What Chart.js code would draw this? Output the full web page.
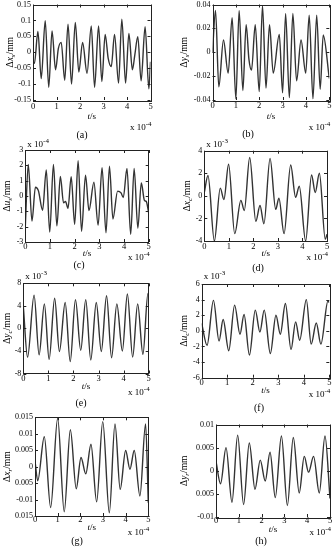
<!DOCTYPE html>
<html lang="en">
<head>
<meta charset="utf-8">
<title>Vibration displacement</title>
<script src="https://cdn.jsdelivr.net/npm/chart.js@4.4.0/dist/chart.umd.min.js"></script>
<style>
  body { margin: 0; background: #fff; }
  #wrap { position: relative; width: 334px; height: 550px; }
  #wrap canvas { position: absolute; left: 0; top: 0; }
</style>
</head>
<body>
<div id="wrap"></div>

<script>
// time axis, x 10^-4 s
var tTicks = [0, 1, 2, 3, 4, 5];

// (a) dx_s, mm
var aT = [0, 0.06, 0.21, 0.35, 0.52, 0.67, 0.81, 0.96, 1.08, 1.2, 1.35, 1.49, 1.64, 1.8, 1.95, 2.11, 2.3, 2.48, 2.62, 2.79, 2.93, 3.07, 3.2, 3.33, 3.47, 3.64, 3.78, 3.94, 4.08, 4.23, 4.33, 4.46, 4.6, 4.77, 4.93, 5];
var aY = [-0.03, -0.035, 0.065, -0.083, 0.099, -0.11, 0.067, -0.055, 0.012, 0.031, -0.088, 0.088, -0.1, 0.094, -0.062, 0.031, -0.066, 0.083, -0.11, 0.083, -0.092, 0.056, -0.019, -0.045, 0.056, -0.097, 0.104, -0.097, 0.059, -0.055, -0.01, 0.049, -0.09, 0.08, -0.115, -0.03];
var aTicks = [-0.15, -0.1, -0.05, 0, 0.05, 0.1, 0.15];

// (b) dy_s, mm
var bT = [0, 0.13, 0.27, 0.47, 0.67, 0.84, 1.0, 1.14, 1.3, 1.44, 1.56, 1.67, 1.83, 2.0, 2.14, 2.29, 2.44, 2.6, 2.86, 3.0, 3.13, 3.29, 3.44, 3.6, 3.79, 3.99, 4.14, 4.3, 4.46, 4.61, 4.74, 5];
var bY = [0, 0.035, -0.029, 0.0103, -0.0175, 0.029, -0.039, 0.035, -0.032, 0.023, -0.006, -0.015, 0.023, -0.033, 0.039, -0.03, 0.023, -0.0175, 0.015, -0.034, 0.0325, -0.038, 0.0325, -0.024, 0.0103, -0.0175, 0.031, -0.039, 0.031, -0.031, 0.0145, -0.022];
var bTicks = [-0.04, -0.02, 0, 0.02, 0.04];

// (c) du_s, x 10^-4 mm
var cT = [0, 0.12, 0.27, 0.41, 0.53, 0.7, 0.85, 0.99, 1.14, 1.28, 1.42, 1.55, 1.63, 1.73, 1.86, 2.0, 2.14, 2.28, 2.44, 2.58, 2.78, 2.95, 3.11, 3.27, 3.41, 3.55, 3.74, 3.88, 3.97, 4.12, 4.27, 4.41, 4.56, 4.7, 4.83, 4.9, 5];
var cY = [-2.0, 2.06, -1.64, 0.57, 0.35, -0.93, 1.7, -2.35, 2.06, -1.95, 1.28, -0.45, -0.35, -0.8, 1.26, -1.85, 2.3, -2.3, 1.35, -0.95, 0.9, -1.9, 1.85, -2.4, 1.95, -1.5, 0.32, 0.2, -0.1, 1.8, -2.5, 1.8, -2.1, 0.85, -0.3, -0.35, -1.1];
var cTicks = [-3, -2, -1, 0, 1, 2, 3];

// (d) dx_c, x 10^-3 mm
var dT = [0, 0.15, 0.41, 0.65, 0.8, 0.99, 1.24, 1.49, 1.63, 1.85, 2.1, 2.27, 2.43, 2.68, 2.91, 3.04, 3.25, 3.52, 3.72, 3.87, 4.13, 4.37, 4.52, 4.69, 4.93, 5];
var dY = [0.3, 1.8, -4.0, 0.68, -0.32, 2.8, -3.35, -0.4, -1.3, 3.4, -2.26, -0.85, -2.47, 3.32, -1.2, -0.2, -3.35, 2.73, -0.12, 0.85, -4.0, 1.85, 0.3, 2.0, -3.85, -3.4];
var dTicks = [-4, -2, 0, 2, 4];

// (e) dy_c, x 10^-3 mm
var eT = [0, 0.17, 0.43, 0.63, 0.84, 1.03, 1.25, 1.44, 1.67, 1.87, 2.08, 2.29, 2.49, 2.69, 2.91, 3.11, 3.32, 3.52, 3.73, 3.95, 4.15, 4.36, 4.56, 4.77, 4.97, 5];
var eY = [3.9, -5.1, 5.9, -4.7, 4.35, -5.5, 5.35, -4.1, 4.6, -5.9, 5.1, -3.9, 5.1, -5.6, 4.6, -4.1, 5.8, -5.2, 4.35, -4.0, 6.1, -5.1, 4.35, -4.6, 6.2, 6.0];
var eTicks = [-8, -4, 0, 4, 8];

// (f) du_c, x 10^-3 mm
var fT = [0, 0.21, 0.46, 0.68, 0.84, 1.06, 1.29, 1.5, 1.66, 1.87, 2.1, 2.28, 2.45, 2.69, 2.91, 3.08, 3.28, 3.5, 3.68, 3.84, 4.1, 4.29, 4.49, 4.67, 4.95, 5];
var fY = [0.95, -1.85, 3.9, -1.3, 1.45, -2.55, 3.3, -0.43, 2.1, -3.1, 2.65, -0.15, 2.65, -2.9, 2.0, -0.43, 3.5, -2.4, 1.15, -1.2, 4.0, -1.7, 1.0, -1.7, 3.85, 3.6];
var fTicks = [-6, -4, -2, 0, 2, 4, 6];

// (g) dx_r, mm
var gT = [0, 0.12, 0.41, 0.69, 1.0, 1.29, 1.56, 1.82, 2.03, 2.24, 2.47, 2.72, 2.99, 3.28, 3.53, 3.76, 4.0, 4.19, 4.38, 4.63, 4.88, 5];
var gY = [0.0018, -0.0043, 0.0091, -0.0124, 0.0147, -0.0137, 0.0112, -0.0067, 0.0028, -0.0022, 0.0068, -0.0107, 0.0137, -0.014, 0.013, -0.0069, 0.0049, -0.0008, 0.0049, -0.0089, 0.013, -0.011];
var gTicks = [-0.015, -0.01, -0.005, 0, 0.005, 0.01, 0.015];

// (h) dy_r, mm
var hT = [0, 0.2, 0.44, 0.7, 0.95, 1.21, 1.46, 1.71, 1.94, 2.16, 2.37, 2.6, 2.87, 3.13, 3.39, 3.65, 3.87, 4.06, 4.28, 4.53, 4.78, 5];
var hY = [0.002, -0.0028, 0.005, -0.0068, 0.0077, -0.0073, 0.006, -0.004, 0.0023, -0.0022, 0.004, -0.0058, 0.0075, -0.0075, 0.0072, -0.0048, 0.0031, -0.0003, 0.0031, -0.0048, 0.0075, -0.006];
var hTicks = [-0.01, -0.005, 0, 0.005, 0.01];

var SERIF = "'Liberation Serif', 'Times New Roman', serif";

// write a run of text pieces [text, font, dy] one after another
function rich(ctx, parts, x, y, align) {
    var w = 0;
    parts.forEach(function(p){ ctx.font = p[1]; w += ctx.measureText(p[0]).width; });
    var cx = align == 'right' ? x - w : (align == 'center' ? x - w / 2 : x);
    parts.forEach(function(p){
        ctx.font = p[1];
        ctx.fillText(p[0], cx, y + (p[2] || 0));
        cx += ctx.measureText(p[0]).width;
    });
}

var decor = {
    id: 'decor',
    afterDraw: function(chart, args, o) {
        var ctx = chart.ctx, a = chart.chartArea;
        var xs = chart.scales.x, ys = chart.scales.y;
        ctx.save();
        ctx.strokeStyle = '#222';
        ctx.lineWidth = 1;
        ctx.beginPath();
        xs.ticks.forEach(function(t){
            var p = Math.round(xs.getPixelForValue(t.value)) + 0.5;
            ctx.moveTo(p, a.bottom); ctx.lineTo(p, a.bottom - 3);
            ctx.moveTo(p, a.top); ctx.lineTo(p, a.top + 3);
        });
        ys.ticks.forEach(function(t){
            var p = Math.round(ys.getPixelForValue(t.value)) + 0.5;
            ctx.moveTo(a.left, p); ctx.lineTo(a.left + 3, p);
            ctx.moveTo(a.right, p); ctx.lineTo(a.right - 3, p);
        });
        ctx.stroke();
        ctx.strokeRect(Math.round(a.left) + 0.5, Math.round(a.top) + 0.5, Math.round(a.right - a.left), Math.round(a.bottom - a.top));

        ctx.fillStyle = '#000';
        ctx.textAlign = 'left';
        ctx.textBaseline = 'middle';
        var N9 = '9px ' + SERIF, I9 = 'italic 9px ' + SERIF, N7 = '7px ' + SERIF;
        var N10 = '9.5px ' + SERIF, I10 = 'italic 9.5px ' + SERIF, I7 = 'italic 7px ' + SERIF;

        // y title, rotated
        ctx.save();
        ctx.translate(o.yTitleX, (a.top + a.bottom) / 2);
        ctx.rotate(-Math.PI / 2);
        rich(ctx, [['\u0394', N10], [o.v, I10], [o.sub, I7, 3], ['/mm', N10]], 0, 0, 'center');
        ctx.restore();

        rich(ctx, [['t', I9], ['/s', N9]], (a.left + a.right) / 2, o.tsY, 'center');
        rich(ctx, [['x 10', N9], ['-4', N7, -4]], a.right + 1, o.expY, 'right');
        if (o.topExp) {
            rich(ctx, [['x 10', N9], [o.topExp, N7, -4]], a.left + 2, o.topExpY, 'left');
        }
        rich(ctx, [[o.cap, '10px ' + SERIF]], o.capX, o.capY, 'center');
        ctx.restore();
    }
};

function makePanel(T, Y, yTicks, box, deco) {
    var cv = document.createElement('canvas');
    cv.width = 334; cv.height = 550;
    document.getElementById('wrap').appendChild(cv);

    var pts = T.map(function(t, i){ return {x: t, y: Y[i]}; });
    var yw = 20, xh = 14;

    new Chart(cv, {
        type: 'line',
        data: { datasets: [{
            data: pts,
            borderColor: '#333',
            borderWidth: 1.4,
            pointRadius: 0,
            fill: false,
            cubicInterpolationMode: 'monotone'
        }]},
        options: {
            responsive: false,
            animation: false,
            devicePixelRatio: 1,
            events: [],
            layout: { padding: { left: box.L - yw, top: box.T, right: 334 - box.R, bottom: 550 - box.B - xh } },
            plugins: { legend: { display: false }, tooltip: { enabled: false }, decor: deco },
            scales: {
                x: {
                    type: 'linear', min: 0, max: 5,
                    grid: { display: false, drawTicks: false },
                    border: { display: false },
                    ticks: { color: '#000', font: { family: SERIF, size: 8.5, lineHeight: 1 }, padding: box.xp, maxRotation: 0, autoSkip: false },
                    afterBuildTicks: function(s){ s.ticks = tTicks.map(function(v){ return {value: v}; }); },
                    afterFit: function(s){ s.height = xh; s.paddingLeft = 0; s.paddingRight = 0; }
                },
                y: {
                    type: 'linear', min: yTicks[0], max: yTicks[yTicks.length - 1],
                    grid: { display: false, drawTicks: false },
                    border: { display: false },
                    ticks: { color: '#000', font: { family: SERIF, size: 8, lineHeight: 1 }, padding: 2,
                             callback: function(v){ return String(v); } },
                    afterBuildTicks: function(s){ s.ticks = yTicks.map(function(v){ return {value: v}; }); },
                    afterFit: function(s){ s.width = yw; s.paddingTop = 0; s.paddingBottom = 0; }
                }
            }
        },
        plugins: [decor]
    });
}

makePanel(aT, aY, aTicks, {L: 33, R: 150.5, T: 4.5, B: 100, xp: 3},
    {v: 'x', sub: 's', yTitleX: 10, tsY: 117, expY: 128, cap: '(a)', capX: 82, capY: 135});
makePanel(bT, bY, bTicks, {L: 212.5, R: 329.3, T: 4.5, B: 100, xp: 2},
    {v: 'y', sub: 's', yTitleX: 184, tsY: 117, expY: 128, cap: '(b)', capX: 248, capY: 134});
makePanel(cT, cY, cTicks, {L: 25.3, R: 148.7, T: 150, B: 242, xp: 1},
    {v: 'u', sub: 's', yTitleX: 7, tsY: 254, expY: 258, topExp: '-4', topExpY: 145, cap: '(c)', capX: 79, capY: 265});
makePanel(dT, dY, dTicks, {L: 204.3, R: 327, T: 150.7, B: 241, xp: 2},
    {v: 'x', sub: 'c', yTitleX: 187, tsY: 254, expY: 258, topExp: '-3', topExpY: 145, cap: '(d)', capX: 258, capY: 268});
makePanel(eT, eY, eTicks, {L: 23.3, R: 148.7, T: 283.3, B: 373.5, xp: 1},
    {v: 'y', sub: 'c', yTitleX: 7, tsY: 387, expY: 393, topExp: '-3', topExpY: 277, cap: '(e)', capX: 81, capY: 403});
makePanel(fT, fY, fTicks, {L: 201.7, R: 329.3, T: 284, B: 377.7, xp: 1},
    {v: 'u', sub: 'c', yTitleX: 184, tsY: 391, expY: 395, topExp: '-3', topExpY: 277, cap: '(f)', capX: 259, capY: 408});
makePanel(gT, gY, gTicks, {L: 35, R: 148.3, T: 417.3, B: 516, xp: 0},
    {v: 'x', sub: 'r', yTitleX: 7, tsY: 528, expY: 533, cap: '(g)', capX: 77, capY: 541});
makePanel(hT, hY, hTicks, {L: 216, R: 330, T: 424.5, B: 517, xp: 0},
    {v: 'y', sub: 'r', yTitleX: 184, tsY: 530, expY: 533, cap: '(h)', capX: 261, capY: 541});
</script>
</body>
</html>
